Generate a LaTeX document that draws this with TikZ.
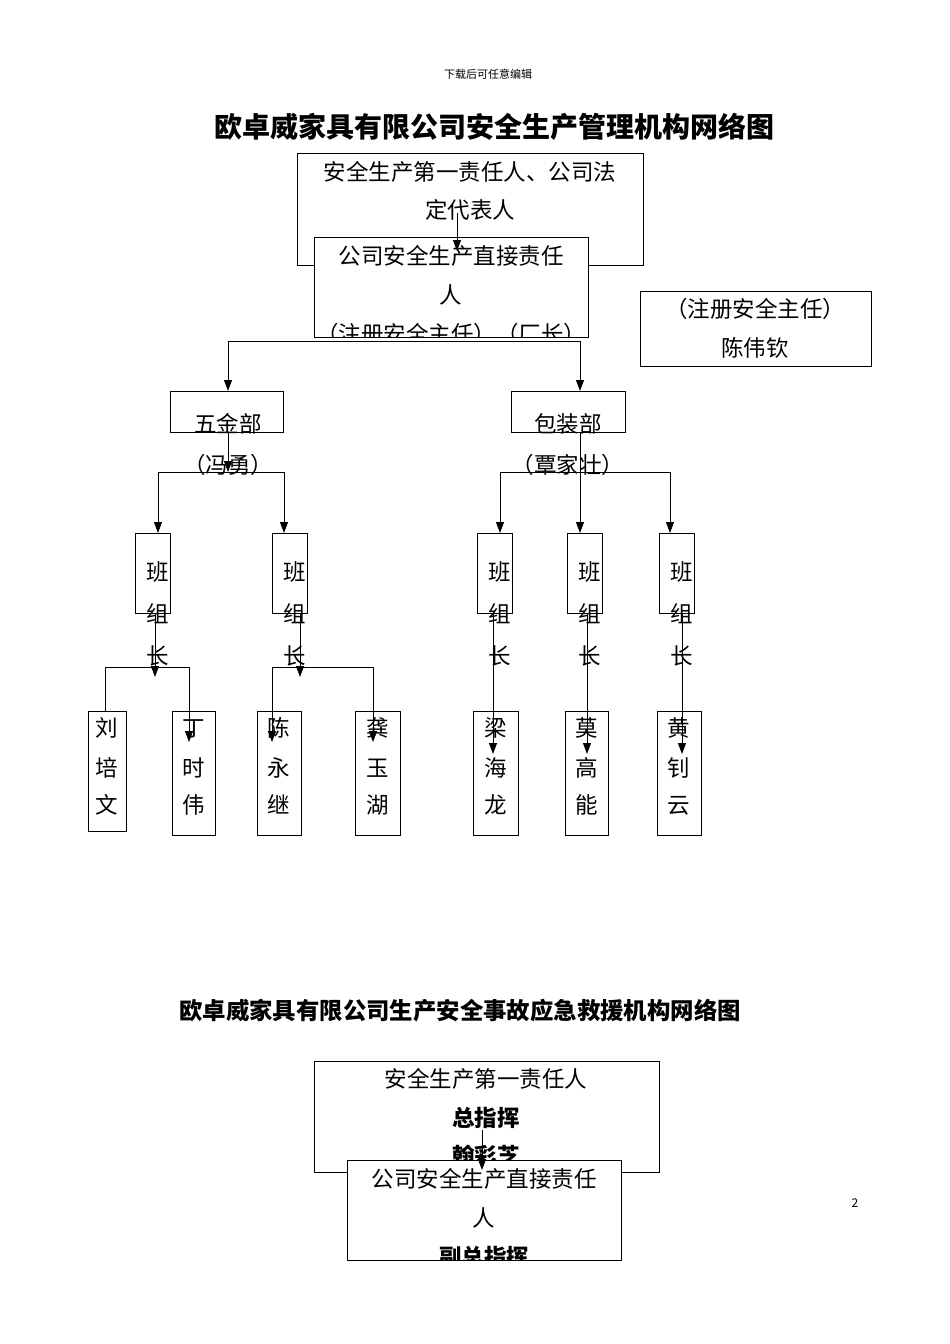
\documentclass[tikz,border=0pt]{standalone}
\usepackage{fontspec}
\setmainfont{Noto Sans CJK SC}
\usepackage{tikz}
\usetikzlibrary{arrows.meta}

\begin{document}
\begin{tikzpicture}[
        x=1pt, y=-1pt,
        box/.style={draw, thick, fill=white},
        txt/.style={font=\fontsize{22.5}{22.5}\selectfont, inner sep=0pt, anchor=base},
        btxt/.style={font=\fontsize{22.5}{22.5}\selectfont\bfseries, inner sep=0pt, anchor=base},
        arrow/.style={thick, -{Triangle[length=11pt,width=8pt]}},
        line/.style={thick}
    ]
        \useasboundingbox (0,0) rectangle (950,1344);

        % Titles
        \node[font=\fontsize{11}{11}\selectfont] (head) at (488,74) {下载后可任意编辑};
        \node[font=\fontsize{28}{28}\selectfont\bfseries] (title) at (494,127) {欧卓威家具有限公司安全生产管理机构网络图};
        \node[font=\fontsize{23.4}{23.4}\selectfont\bfseries] (title2) at (460,1011) {欧卓威家具有限公司生产安全事故应急救援机构网络图};
        \node[font=\fontsize{12}{12}\selectfont] (page) at (855,1203) {2};

        % Top boxes
        \draw[box] (297,153) rectangle (643,265);
        \node[txt] (firstA) at (470,180) {安全生产第一责任人、公司法};
        \node[txt] (firstB) at (470,218) {定代表人};
        \draw[box] (314,237) rectangle (588,337);
        \begin{scope}
            \clip (314,237) rectangle (588,337);
            \node[txt] (directA) at (451,264) {公司安全生产直接责任};
            \node[txt] (directB) at (451,303) {人};
            \node[txt] (directC) at (451,342) {（注册安全主任）（厂长）};
        \end{scope}
        \coordinate (firstS) at (457,213);
        \coordinate (directN) at (457,251);
        \draw[arrow] (firstS) -- (directN);

        \draw[box] (640,291) rectangle (871,366);
        \node[txt] (chief) at (755,317) {（注册安全主任）};
        \node[txt] (chiefName) at (755,356) {陈伟钦};

        % Departments
        \draw[box] (170,391) rectangle (283,432);
        \node[txt] (hardware) at (228,432) {五金部};
        \node[txt] (hardwareBoss) at (228,473) {（冯勇）};
        \draw[box] (511,391) rectangle (625,432);
        \node[txt] (packing) at (568,432) {包装部};
        \node[txt] (packingBoss) at (568,473) {（覃家壮）};

        \coordinate (busL) at (228,341);
        \coordinate (busR) at (580,341);
        \coordinate (hardwareN) at (228,391);
        \coordinate (packingN) at (580,391);
        \draw[line] (busL) -- (busR);
        \draw[arrow] (busL) -- (hardwareN);
        \draw[arrow] (busR) -- (packingN);

        % Team leaders
        \foreach \n/\x in {1/135, 2/272, 3/477, 4/567, 5/659} {
            \draw[box] (\x,533) rectangle (\x+35,613);
            \node[txt] (lead\n a) at (\x+23,580) {班};
            \node[txt] (lead\n b) at (\x+23,622) {组};
            \node[txt] (lead\n c) at (\x+23,664) {长};
        }

        % Hardware branches
        \coordinate (hwS) at (228,432);
        \coordinate (hwBus) at (228,472);
        \draw[arrow] (hwS) -- (hwBus);
        \draw[line] (158,472) -- (284,472);
        \draw[arrow] (158,472) -- (158,533);
        \draw[arrow] (284,472) -- (284,533);

        % Packing branches
        \draw[line] (500,472) -- (670,472);
        \draw[arrow] (580,432) -- (580,533);
        \draw[arrow] (500,472) -- (500,533);
        \draw[arrow] (670,472) -- (670,533);

        % Workers
        \foreach \n/\x/\w/\h/\a/\b/\c in {1/88/38/120/刘/培/文, 2/172/43/124/丁/时/伟, 3/257/44/124/陈/永/继,
                4/355/45/124/龚/玉/湖, 5/473/45/124/梁/海/龙, 6/565/43/124/莫/高/能, 7/657/44/124/黄/钊/云} {
            \draw[box] (\x,711) rectangle (\x+\w,711+\h);
            \node[txt] (worker\n a) at (\x+\w/2,736) {\a};
            \node[txt] (worker\n b) at (\x+\w/2,776) {\b};
            \node[txt] (worker\n c) at (\x+\w/2,813) {\c};
        }

        % Team to worker connectors
        \draw[arrow] (155,613) -- (155,677);
        \draw[line] (105,667) -- (189,667);
        \draw[line] (105,667) -- (105,711);
        \draw[arrow] (189,667) -- (189,742);
        \draw[arrow] (300,613) -- (300,677);
        \draw[line] (272,667) -- (373,667);
        \draw[arrow] (272,667) -- (272,742);
        \draw[arrow] (373,667) -- (373,742);
        \draw[arrow] (493,613) -- (493,754);
        \draw[arrow] (587,613) -- (587,754);
        \draw[arrow] (682,613) -- (682,754);

        % Emergency boxes
        \draw[box] (314,1061) rectangle (659,1172);
        \node[txt] (emFirstA) at (486,1087) {安全生产第一责任人};
        \node[btxt] (emFirstB) at (486,1126) {总指挥};
        \node[btxt] (emFirstC) at (486,1164) {翰彩芝};
        \draw[box] (347,1160) rectangle (621,1260);
        \begin{scope}
            \clip (347,1160) rectangle (621,1260);
            \node[txt] (emDirectA) at (484,1187) {公司安全生产直接责任};
            \node[txt] (emDirectB) at (484,1226) {人};
            \node[btxt] (emDirectC) at (484,1265) {副总指挥};
        \end{scope}
        \coordinate (emS) at (482,1130);
        \coordinate (emN) at (482,1170);
        \draw[arrow] (emS) -- (emN);
\end{tikzpicture}
\end{document}
